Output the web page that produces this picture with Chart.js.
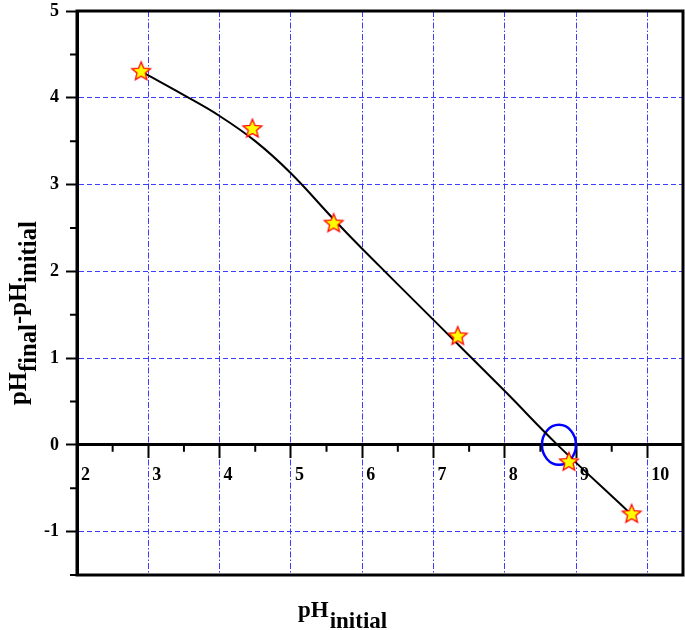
<!DOCTYPE html>
<html><head><meta charset="utf-8">
<script src="https://cdn.jsdelivr.net/npm/chart.js@4.4.1/dist/chart.umd.min.js"></script>
<style>html,body{margin:0;padding:0;background:#fff;}#wrap{width:685px;height:630px;}</style>
</head><body><div id="wrap"><canvas id="c" width="685" height="630"></canvas></div>
<script>
// ---- data ----
const phInitial = [2.90, 4.46, 5.60, 7.34, 8.90, 9.78];
const phDifference = [4.30, 3.64, 2.55, 1.25, -0.20, -0.80];
const fitX = [2.95, 3.50, 4.00, 4.50, 5.00, 5.60, 6.00, 7.00, 8.00, 8.74, 9.76];
const fitY = [4.28, 4.03, 3.79, 3.50, 3.13, 2.60, 2.26, 1.44, 0.62, 0.00, -0.79];
const xTickLabels = ['2','3','4','5','6','7','8','9','10'];
const yTickLabels = ['-1','0','1','2','3','4','5'];
const xMinorTicks = [2.5, 3.5, 4.5, 5.5, 6.5, 7.5, 8.5, 9.5];
const yMinorTicks = [-1.5, -0.5, 0.5, 1.5, 2.5, 3.5, 4.5];
const pzcPoint = [8.76, 0];

const SERIF = '"Liberation Serif", "Times New Roman", serif';
const GRID_BLUE = '#3c3cff';

function makeStar(R, r) {
  const s = Math.ceil(2 * R + 4);
  const c = document.createElement('canvas');
  c.width = s; c.height = s;
  const g = c.getContext('2d');
  g.translate(s / 2, s / 2);
  g.beginPath();
  for (let k = 0; k < 10; k++) {
    const rad = k % 2 ? r : R;
    const a = -Math.PI / 2 + k * Math.PI / 5;
    g.lineTo(rad * Math.cos(a), rad * Math.sin(a));
  }
  g.closePath();
  g.fillStyle = '#ffff00'; g.fill();
  g.strokeStyle = '#ff0000'; g.lineWidth = 1.3; g.stroke();
  return c;
}

const noPad = s => { s.paddingLeft = 0; s.paddingRight = 0; s.paddingTop = 0; s.paddingBottom = 0; };

const decor = {
  id: 'decor',
  beforeDatasetsDraw(chart) {
    const {ctx, scales: {x, y}} = chart;
    ctx.save();
    ctx.strokeStyle = '#0000ff';
    ctx.lineWidth = 2.5;
    ctx.beginPath();
    ctx.ellipse(x.getPixelForValue(pzcPoint[0]), y.getPixelForValue(pzcPoint[1]), 17, 20, 0, 0, Math.PI * 2);
    ctx.stroke();
    ctx.restore();
  },
  afterDraw(chart) {
    const {ctx, chartArea: a, scales: {x, y}} = chart;
    ctx.save();
    ctx.strokeStyle = '#000';
    ctx.lineWidth = 3;
    ctx.strokeRect(a.left, a.top, a.right - a.left, a.bottom - a.top);
    ctx.lineWidth = 2;
    const y0 = y.getPixelForValue(0);
    ctx.beginPath();
    xMinorTicks.forEach(v => { const px = x.getPixelForValue(v); ctx.moveTo(px, y0); ctx.lineTo(px, y0 + 7); });
    yMinorTicks.forEach(v => { const py = y.getPixelForValue(v); ctx.moveTo(a.left, py); ctx.lineTo(a.left - 7, py); });
    ctx.stroke();
    ctx.fillStyle = '#000';
    ctx.textBaseline = 'alphabetic';
    ctx.textAlign = 'left';
    // x tick labels, placed on the zero line just right of each tick
    ctx.font = 'bold 18px ' + SERIF;
    xTickLabels.forEach(l => ctx.fillText(l, x.getPixelForValue(Number(l)) + 4, y0 + 35));
    // x title
    ctx.font = 'bold 23px ' + SERIF;
    let xt = 298;
    ctx.fillText('pH', xt, 617);
    xt += ctx.measureText('pH').width + 1;
    ctx.fillText('initial', xt, 628);
    // y title (rotated)
    ctx.translate(26, 405);
    ctx.rotate(-Math.PI / 2);
    let t = 0;
    const parts = [['pH', 0], ['final', 10], ['-pH', 0], ['initial', 10]];
    ctx.font = 'bold 24.7px ' + SERIF;
    parts.forEach(([s, dy]) => {
      ctx.fillText(s, t, dy);
      t += ctx.measureText(s).width;
    });
    ctx.restore();
  }
};

new Chart(document.getElementById('c'), {
  type: 'scatter',
  data: {
    datasets: [
      {
        label: 'data',
        data: phInitial.map((v, i) => ({x: v, y: phDifference[i]})),
        pointStyle: makeStar(9.8, 4.4),
        pointRadius: 10,
        showLine: false,
        order: 0
      },
      {
        label: 'fit',
        data: fitX.map((v, i) => ({x: v, y: fitY[i]})),
        showLine: true,
        borderColor: '#000',
        borderWidth: 2,
        pointRadius: 0,
        tension: 0.4,
        order: 1
      }
    ]
  },
  options: {
    responsive: false,
    animation: false,
    layout: {autoPadding: false, padding: {top: 11, right: 2, bottom: 55, left: 0}},
    plugins: {legend: {display: false}, tooltip: {enabled: false}},
    scales: {
      x: {
        type: 'linear',
        position: {y: 0},
        min: 2, max: 10.5,
        afterFit: noPad,
        ticks: {stepSize: 1, includeBounds: false, display: false},
        grid: {
          color: c => (c.tick && c.tick.value === 2) ? 'rgba(0,0,0,0)' : GRID_BLUE,
          lineWidth: 1, tickLength: 12, tickColor: '#000', tickWidth: 2
        },
        border: {display: true, color: '#000', width: 3, dash: [6, 2, 1.5, 2]}
      },
      y: {
        type: 'linear',
        position: 'left',
        min: -1.5, max: 5,
        afterFit: s => { s.width = 77; noPad(s); },
        ticks: {
          stepSize: 1, includeBounds: false, padding: 7,
          color: '#000', font: {family: SERIF, size: 18, weight: 'bold'},
          callback: v => yTickLabels.find(l => Number(l) === v) ?? ''
        },
        grid: {
          color: GRID_BLUE,
          lineWidth: 1, tickLength: 11, tickColor: '#000', tickWidth: 2
        },
        border: {display: true, color: '#000', width: 3, dash: [5, 3]}
      }
    }
  },
  plugins: [decor]
});
</script></body></html>
